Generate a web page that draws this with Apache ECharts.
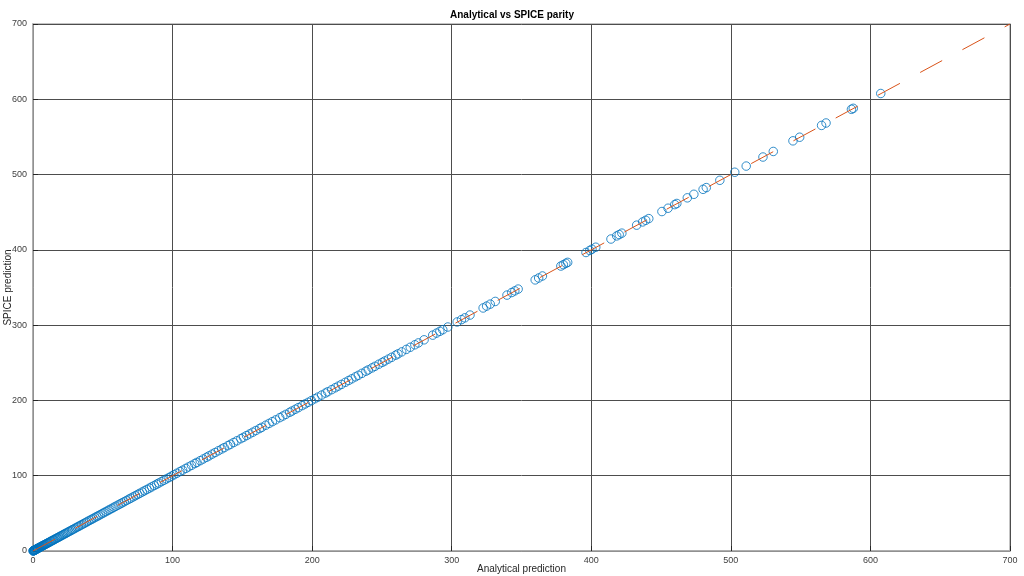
<!DOCTYPE html>
<html>
<head>
<meta charset="utf-8">
<script src="https://cdn.jsdelivr.net/npm/echarts@6/dist/echarts.min.js"></script>
<style>html,body{margin:0;padding:0;background:#fff}#c{width:1024px;height:576px}</style>
</head>
<body>
<div id="c"></div>
<script>
const titleText = 'Analytical vs SPICE parity';
const xName = 'Analytical prediction';
const yName = 'SPICE prediction';
const axisMin = 0, axisMax = 700, axisStep = 100;
const refLineX = [0, 700];
const refLineY = [0, 700];

const analytical = [
0.1,0.2,0.3,0.5,0.6,0.8,1.0,1.2,1.4,1.6,1.8,2.1,2.3,2.6,2.9,3.2,3.5,3.8,4.1,4.5,4.8,5.2,5.6,6.0,6.4,6.8,7.3,7.7,8.2,8.7,9.2,9.7,10.3,10.8,11.4,12.0,12.6,13.2,13.8,14.5,15.1,15.8,16.5,17.3,18.0,18.8,19.5,
20.3,21.2,22.0,22.9,23.7,24.6,25.6,26.5,27.5,28.4,29.5,30.5,31.6,32.6,33.7,34.8,36.0,37.1,38.3,39.4,40.7,41.9,43.1,44.4,45.7,46.9,48.2,49.6,
50.9,52.3,53.8,55.1,56.6,58.0,59.4,61.0,62.5,63.9,65.4,67.0,68.7,70.1,71.8,73.4,75.0,76.5,78.3,79.9,81.6,83.4,85.0,86.9,88.6,90.1,92.0,93.8,95.6,97.5,99.2,
101.0,103.1,105.3,107.2,109.5,111.4,113.6,115.9,117.5,119.8,122.0,124.3,126.1,128.4,130.5,132.8,135.2,137.0,139.6,141.5,143.8,146.1,148.9,150.8,153.0,155.2,157.5,159.7,162.3,164.0,166.8,169.2,171.5,173.9,176.8,179.0,181.2,183.9,185.6,188.0,190.1,192.8,195.0,197.2,199.5,
201.9,204.1,206.8,209.5,211.2,214.0,216.5,218.7,221.0,223.8,226.2,228.4,231.0,233.1,235.7,238.5,240.2,242.9,245.0,247.8,250.3,252.1,254.6,257.0,259.8,261.5,264.2,
267.5,270.3,273.6,276.1,280.2,286.4,289.1,291.5,293.6,297.2,303.9,307.0,309.4,313.1,322.5,325.0,327.6,331.2,339.6,343.0,345.2,347.6,359.8,362.3,365.0,378.2,380.0,381.8,383.1,396.2,398.9,400.5,403.2,414.1,418.2,420.0,421.9,432.5,436.8,439.0,441.2,450.6,455.0,459.8,461.3,468.8,473.5,480.1,482.4,492.1,502.8,511.0,523.0,530.4,544.5,549.3,565.0,568.2,586.4,587.7,607.4
];

const spice = [
0.1,0.2,0.3,0.5,0.6,0.8,1.0,1.2,1.4,1.6,1.9,2.1,2.3,2.6,2.9,3.2,3.5,3.8,4.1,4.5,4.8,5.2,5.6,6.0,6.4,6.9,7.3,7.7,8.2,8.7,9.2,9.8,10.3,10.8,11.4,12.0,12.6,13.3,13.8,14.5,15.1,15.8,16.6,17.3,18.0,18.8,19.6,
20.3,21.2,22.1,22.9,23.7,24.6,25.7,26.5,27.5,28.5,29.5,30.6,31.6,32.7,33.7,34.9,36.0,37.2,38.3,39.5,40.7,42.0,43.1,44.5,45.8,46.9,48.3,49.7,
51.0,52.4,53.9,55.2,56.6,58.1,59.5,61.1,62.6,64.0,65.5,67.1,68.8,70.2,71.9,73.5,75.1,76.6,78.4,80.0,81.7,83.5,85.1,87.0,88.7,90.2,92.1,93.9,95.7,97.6,99.4,
101.2,103.3,105.5,107.4,109.7,111.6,113.8,116.1,117.7,120.0,122.2,124.5,126.3,128.7,130.8,133.1,135.5,137.3,139.9,141.8,144.1,146.4,149.2,151.1,153.3,155.5,157.8,160.0,162.6,164.3,167.1,169.5,171.8,174.2,177.1,179.3,181.5,184.2,185.9,188.3,190.4,193.1,195.3,197.5,199.8,
202.2,204.4,207.1,209.8,211.5,214.3,216.8,219.0,221.3,224.1,226.5,228.7,231.3,233.4,236.0,238.8,240.5,243.2,245.3,248.1,250.6,252.4,254.9,257.3,260.1,261.8,264.5,
267.8,270.6,273.9,276.4,280.5,286.7,289.4,291.8,293.9,297.5,304.2,307.3,309.7,313.4,322.8,325.3,327.9,331.5,339.9,343.3,345.5,347.9,360.1,362.6,365.3,378.5,380.3,382.1,383.4,396.5,399.2,400.8,403.5,414.4,418.5,420.3,422.2,432.8,437.1,439.3,441.5,450.9,455.3,460.1,461.6,469.1,473.8,480.4,482.7,492.4,503.1,511.3,523.3,530.7,544.8,549.6,565.3,568.5,586.7,588.0,607.7
];

const n = Math.min(analytical.length, spice.length);
const points = [];
for (let i = 0; i < n; i++) points.push([analytical[i], spice[i]]);
const linePts = refLineX.map((x, i) => [x, refLineY[i]]);

const font = 'Liberation Sans, Arial, Helvetica, sans-serif';
const axisCommon = {
  type: 'value', min: axisMin, max: axisMax, interval: axisStep,
  nameLocation: 'middle',
  nameMoveOverlap: false,
  nameTextStyle: { color: '#262626', fontSize: 10, fontFamily: font },
  axisLine: { show: true, lineStyle: { color: '#a8a8a8', width: 1.5 } },
  axisTick: { show: true, inside: true, length: 5, lineStyle: { color: '#262626', width: 1 } },
  axisLabel: { color: '#404040', fontSize: 9, fontFamily: font },
  splitLine: { show: true, lineStyle: { color: '#4d4d4d', width: 1 } }
};

const chart = echarts.init(document.getElementById('c'), null, { renderer: 'canvas' });
chart.setOption({
  animation: false,
  backgroundColor: '#ffffff',
  title: {
    text: titleText, left: 'center', top: 5,
    textStyle: { color: '#000', fontSize: 10, fontWeight: 'bold', fontFamily: font }
  },
  grid: { left: 33, right: 14, top: 24, bottom: 25, containLabel: false, outerBoundsMode: 'none', show: true, borderColor: '#b0b0b0', borderWidth: 1.5, backgroundColor: 'transparent' },
  xAxis: Object.assign({}, axisCommon, { name: xName, nameGap: 13, axisLabel: Object.assign({}, axisCommon.axisLabel, { margin: 5 }) }),
  yAxis: Object.assign({}, axisCommon, { name: yName, nameGap: 20, axisLabel: Object.assign({}, axisCommon.axisLabel, { margin: 6 }) }),
  series: [
    {
      type: 'scatter', data: points, symbol: 'circle', symbolSize: 8.5,
      itemStyle: { color: 'rgba(255,255,255,0)', borderColor: '#0072BD', borderWidth: 1 },
      z: 2
    },
    {
      type: 'line', data: linePts, symbol: 'none',
      lineStyle: { color: '#D95319', width: 1, type: [25, 23] },
      z: 3
    }
  ]
});
</script>
</body>
</html>
